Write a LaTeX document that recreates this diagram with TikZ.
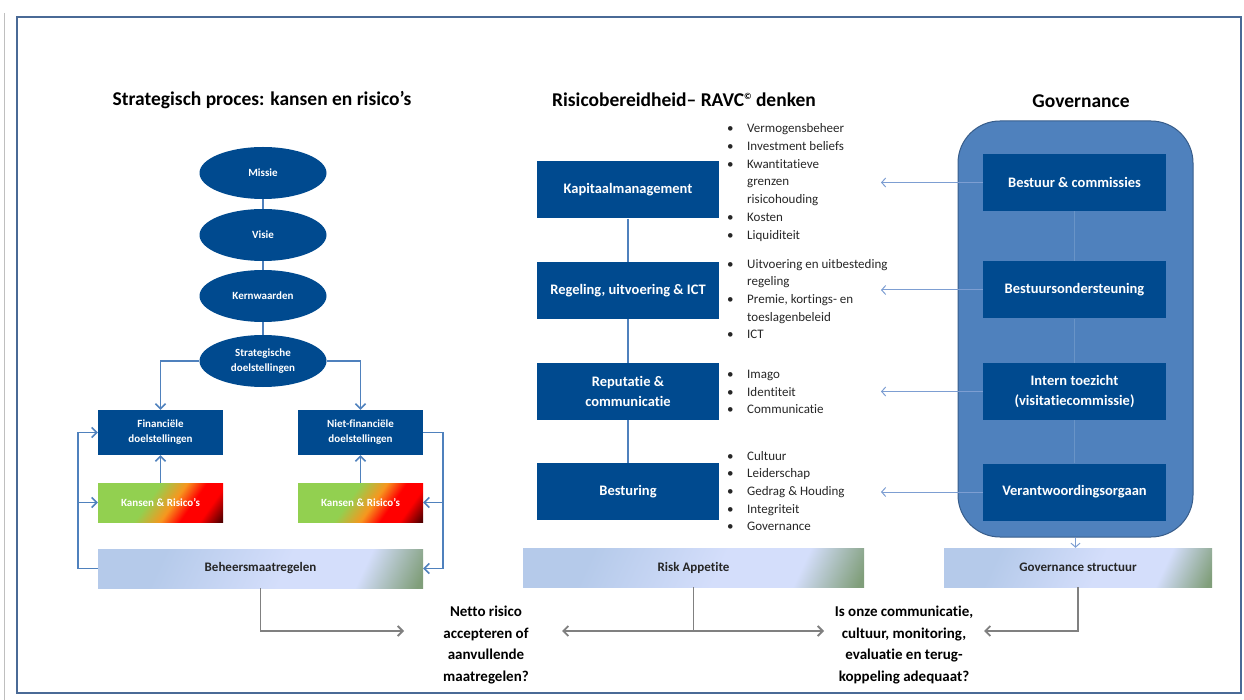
\documentclass[tikz,border=0pt]{standalone}
\usepackage{fontspec}
\setmainfont{Carlito}[Ligatures=NoCommon]
\usetikzlibrary{arrows.meta,shapes.geometric}

\definecolor{boxblue}{RGB}{0,74,143}
\definecolor{panelblue}{RGB}{79,129,189}
\definecolor{paneledge}{RGB}{56,93,138}
\definecolor{linkblue}{RGB}{79,129,189}
\definecolor{armblue}{RGB}{125,158,210}
\definecolor{frameblue}{RGB}{74,106,150}
\definecolor{greyline}{RGB}{128,128,128}
\definecolor{kgreen}{RGB}{146,208,80}
\definecolor{korange}{RGB}{247,150,30}
\definecolor{kred}{RGB}{255,0,0}
\definecolor{kdark}{RGB}{80,0,0}
\definecolor{pale1}{RGB}{181,202,234}
\definecolor{pale2}{RGB}{212,222,251}
\definecolor{pale3}{RGB}{128,158,122}

\pgfdeclarehorizontalshading{kansen}{100bp}{color(0bp)=(kgreen); color(44bp)=(kgreen); color(56bp)=(korange); color(65bp)=(kred); color(74bp)=(kred); color(84bp)=(kdark); color(100bp)=(kdark)}
\pgfdeclarehorizontalshading{pale}{100bp}{color(0bp)=(pale1); color(30bp)=(pale1); color(55bp)=(pale2); color(70bp)=(pale2); color(82bp)=(pale3); color(100bp)=(pale3)}

\newcommand{\itm}{\makebox[20pt][l]{\textbullet}}
\newcommand{\cnt}{\hspace*{20pt}}

\begin{document}
\begin{tikzpicture}
[ x=1pt, y=-1pt
, title/.style={font=\bfseries\fontsize{19.5}{22}\selectfont}
, oval/.style={ellipse, fill=boxblue, minimum width=127pt, minimum height=52pt, inner sep=0pt, text=white, align=center, font=\bfseries\fontsize{11}{15}\selectfont}
, goal/.style={rectangle, fill=boxblue, minimum width=125pt, minimum height=45pt, inner sep=0pt, text=white, align=center, font=\bfseries\fontsize{11}{15}\selectfont}
, risk/.style={rectangle, shade, shading=kansen, shading angle=-35, minimum width=125pt, minimum height=39pt, inner sep=0pt, text=white, font=\bfseries\fontsize{11}{15}\selectfont}
, area/.style={rectangle, fill=boxblue, minimum width=182pt, minimum height=57pt, inner sep=0pt, text=white, align=center, font=\bfseries\fontsize{14.5}{20}\selectfont}
, band/.style={rectangle, shade, shading=pale, shading angle=-25, minimum height=39pt, inner sep=0pt, text=black!85, font=\bfseries\fontsize{13}{15}\selectfont}
, panel/.style={rectangle, rounded corners=42pt, fill=panelblue, draw=paneledge, line width=1pt}
, bullets/.style={anchor=west, align=left, inner sep=0pt, text=black!85, font=\fontsize{13}{17.7}\selectfont}
, question/.style={align=center, inner sep=0pt, font=\bfseries\fontsize{15}{21.5}\selectfont}
, link/.style={draw=linkblue, line width=1.6pt}
, arrow/.style={link, -{Straight Barb[length=5pt,width=10pt]}}
, spine/.style={draw=linkblue, line width=1.2pt}
, arm/.style={draw=armblue, line width=1pt, -{Straight Barb[length=4pt,width=9pt]}}
, grey/.style={draw=greyline, line width=1.8pt}
, greyarrow/.style={grey, -{Straight Barb[length=5pt,width=10pt]}}
]
\useasboundingbox (0,0) rectangle (1244,700);
\draw [gray!50, line width=1pt] (4,13) -- (4,700);
\draw [frameblue, line width=2pt] (17,17) rectangle (1241,693);

% Titles:
\node (ttlproces) [title] at (262,100) {Strategisch proces: kansen en risico’s};
\node (ttlravc) [title] at (684,100) {Risicobereidheid– RAVC\raisebox{0.75ex}{\fontsize{9}{9}\selectfont ©} denken};
\node (ttlgov) [title] at (1081,101) {Governance};

% Strategic process:
\node (missie) [oval] at (263,173) {Missie};
\node (visie) [oval] at (263,235) {Visie};
\node (kern) [oval] at (263,296) {Kernwaarden};
\node (strat) [oval] at (263,361) {Strategische\\doelstellingen};
\node (fin) [goal] at (160.5,432.5) {Financiële\\doelstellingen};
\node (nfin) [goal] at (360.5,432.5) {Niet-financiële\\doelstellingen};
\node (kansA) [risk] at (160.5,502.5) {Kansen \& Risico’s};
\node (kansB) [risk] at (360.5,502.5) {Kansen \& Risico’s};
\node (beheer) [band, minimum width=325pt] at (260.5,568.5) {Beheersmaatregelen};
\coordinate (loopL) at (78,0);
\coordinate (loopR) at (443,0);

\draw [link] (missie) -- (visie) -- (kern) -- (strat);
\draw [arrow] (strat.west) -| (fin.north);
\draw [arrow] (strat.east) -| (nfin.north);
\draw [arrow] (kansA) -- (fin);
\draw [arrow] (kansB) -- (nfin);
\draw [arrow] (beheer.west) -- (beheer.west -| loopL) |- (fin.west);
\draw [arrow] (kansA.west -| loopL) -- (kansA.west);
\draw [arrow] (nfin.east) -- (nfin.east -| loopR) |- (beheer.east);
\draw [arrow] (kansB.east -| loopR) -- (kansB.east);

% Risk appetite:
\node (kapitaal) [area] at (628,190) {Kapitaalmanagement};
\node (regeling) [area] at (628,290.5) {Regeling, uitvoering \& ICT};
\node (reputatie) [area] at (628,391.5) {Reputatie \&\\communicatie};
\node (besturing) [area] at (628,491.5) {Besturing};
\node (appetite) [band, minimum width=341pt] at (693.5,567.5) {Risk Appetite};
\draw [spine] (kapitaal) -- (regeling) -- (reputatie) -- (besturing);

\node (lstkap) [bullets] at (727,182.5) {\itm Vermogensbeheer\\ \itm Investment beliefs\\ \itm Kwantitatieve\\ \cnt grenzen\\ \cnt risicohouding\\ \itm Kosten\\ \itm Liquiditeit};
\node (lstreg) [bullets] at (727,299) {\itm Uitvoering en uitbesteding\\ \cnt regeling\\ \itm Premie, kortings- en\\ \cnt toeslagenbeleid\\ \itm ICT};
\node (lstrep) [bullets] at (727,392) {\itm Imago\\ \itm Identiteit\\ \itm Communicatie};
\node (lstbes) [bullets] at (727,491) {\itm Cultuur\\ \itm Leiderschap\\ \itm Gedrag \& Houding\\ \itm Integriteit\\ \itm Governance};

% Governance:
\node (govpanel) [panel, minimum width=235pt, minimum height=416pt] at (1075.5,329) {};
\node (bestuur) [area, minimum width=183pt] at (1074.5,182.5) {Bestuur \& commissies};
\node (ondersteuning) [area, minimum width=183pt] at (1074.5,290) {Bestuursondersteuning};
\node (toezicht) [area, minimum width=183pt] at (1074.5,391.5) {Intern toezicht\\(visitatiecommissie)};
\node (verantwoording) [area, minimum width=183pt] at (1074.5,492) {Verantwoordingsorgaan};
\node (govstr) [band, minimum width=268pt] at (1078,567.5) {Governance structuur};
\coordinate (armend) at (881,0);

\draw [draw=panelblue!85!white, line width=0.8pt] (bestuur) -- (ondersteuning) -- (toezicht) -- (verantwoording);
\draw [arm] (bestuur.west) -- (bestuur.west -| armend);
\draw [arm] (ondersteuning.west) -- (ondersteuning.west -| armend);
\draw [arm] (toezicht.west) -- (toezicht.west -| armend);
\draw [arm] (verantwoording.west) -- (verantwoording.west -| armend);
\draw [arm] (govpanel.south) -- (govpanel.south |- govstr.north);

% Questions:
\node (netto) [question] at (486,645) {Netto risico\\accepteren of\\aanvullende\\maatregelen?};
\node (vraag) [question] at (904,645) {Is onze communicatie,\\cultuur, monitoring,\\evaluatie en terug-\\koppeling adequaat?};
\coordinate (nettoL) at (404,631);
\coordinate (nettoR) at (562,631);
\coordinate (vraagL) at (824,631);
\coordinate (vraagR) at (984,631);

\draw [greyarrow] (beheer.south) |- (nettoL);
\draw [grey] (appetite.south) -- (appetite.south |- nettoR);
\draw [greyarrow, {Straight Barb[length=5pt,width=10pt]}-{Straight Barb[length=5pt,width=10pt]}] (nettoR) -- (vraagL);
\draw [greyarrow] (govstr.south) |- (vraagR);
\end{tikzpicture}
\end{document}
